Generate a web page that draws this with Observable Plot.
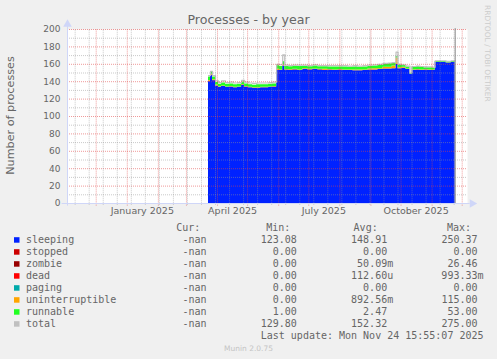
<!DOCTYPE html>
<html><head><meta charset="utf-8">
<script src="https://cdn.jsdelivr.net/npm/d3@7"></script>
<script src="https://cdn.jsdelivr.net/npm/@observablehq/plot@0.6"></script>
<style>
html,body{margin:0;padding:0;background:#f0f0f0;}
#wrap{position:relative;width:497px;height:359px;background:#f0f0f0;overflow:hidden;}
#wrap svg{position:absolute;left:0;top:0;}
</style></head>
<body><div id="wrap"></div>
<script>
// ---- data ----
const dates = ["2025-03-23","2025-03-25","2025-03-27","2025-03-30","2025-04-02","2025-04-05","2025-04-09","2025-04-13","2025-04-17","2025-04-21","2025-04-25","2025-04-28","2025-05-02","2025-05-06","2025-05-10","2025-05-14","2025-05-18","2025-05-22","2025-05-26","2025-05-30","2025-06-02","2025-06-05","2025-06-07","2025-06-11","2025-06-15","2025-06-20","2025-06-25","2025-06-30","2025-07-05","2025-07-10","2025-07-15","2025-07-20","2025-07-25","2025-07-30","2025-08-04","2025-08-09","2025-08-14","2025-08-19","2025-08-24","2025-08-29","2025-09-03","2025-09-08","2025-09-13","2025-09-18","2025-09-22","2025-09-26","2025-09-28","2025-10-02","2025-10-06","2025-10-10","2025-10-12","2025-10-16","2025-10-20","2025-10-24","2025-10-28","2025-11-02","2025-11-04","2025-11-10","2025-11-15","2025-11-20","2025-11-24"];
const sleeping = [140,147,141,135,133.5,134.5,133.5,134,133,133.5,136,134,133,132.5,132.5,133,133,133.5,134,153,153,158,153.5,153,153.5,153,154,153.5,154,153.5,153,153.5,153,153.5,153,153,152.5,152.5,153,153.5,153.5,154,154.5,154.5,155,160,155,155.5,154,148.5,153,153.5,153,153.5,153,153,162,162,161.5,162,162];
const zombie = [0.5,0.5,0.3,0.2,0.2,0,0,0,0,0,0.2,0,0,0,0,0,0,0,0,0.2,0,0,0,0.3,0.3,0,0.3,0.3,0,0.3,0.3,0,0,0,0,0,0,0,0,0,0,0,0,0,0,0,0,0,0,0,0,0,0,0,0,0,0,0,0,0,0];
const uninterruptible = [1,1,1,1,0.5,0.5,0.5,0.5,0.5,0.5,0.5,0.5,0.5,0.5,0.5,0.5,0.5,0.5,0.5,1,0.5,1,0.5,0.5,0.5,0.5,0.5,0.5,0.5,0.5,1,0.5,0.5,0.5,0.5,0.5,1,1,0.5,1,1.5,1,2,2,3,7,1,1,0.5,0,0.5,0.5,0.5,0.5,0.5,0.5,0.2,0.2,0.2,0.2,0.2];
const runnable = [4,3,3,3,3,3.5,3,3,3,3,3,3,3,3,3.5,3,3,3,3,4,4,4,3.5,3.5,3.5,4,3,3,3.5,3,3,3,3.5,3,3.5,3,3.5,3,3.5,3,3,3.5,3.5,4,3,2,3,2,2.5,1,3,3.5,3,2,2.5,2,1,1,1,1,1];
const total = [147,152,147,141,139,141,139,139.5,138.5,139,141.5,139.5,138.5,138,138.5,138.5,138.5,139,139.5,160,159.5,171,159,158.5,159,159,159,158.5,159.5,158.5,158.5,158.5,158.5,158.5,158.5,158,158.5,158,158.5,159,159.5,160,161,161.5,162,174,160,159.5,158,150,157.5,158,157.5,157,157,156.5,164,164,163.5,164,164];

const seriesNames = ["sleeping","zombie","uninterruptible","runnable"];
const seriesValues = [sleeping, zombie, uninterruptible, runnable];

const legendNames = ["sleeping","stopped","zombie","dead","paging","uninterruptible","runnable","total"];
const legendColors = ["#0022ff","#cc0000","#990000","#ff0000","#00aaaa","#ffa500","#22ff22","#c0c0c0"];
const curCol = ["-nan","-nan","-nan","-nan","-nan","-nan","-nan","-nan"];
const minCol = ["123.08","0.00","0.00","0.00","0.00","0.00","1.00","129.80"];
const avgCol = ["148.91","0.00","50.09m","112.60u","0.00","892.56m","2.47","152.32"];
const maxCol = ["250.37","0.00","26.46","993.33m","0.00","115.00","53.00","275.00"];
const headers = ["Cur:","Min:","Avg:","Max:"];
const monthLabelDates = ["2025-01-16","2025-04-16","2025-07-16","2025-10-16"];
const monthStarts = ["2024-12-01","2025-01-01","2025-02-01","2025-03-01","2025-04-01","2025-05-01","2025-06-01","2025-07-01","2025-08-01","2025-09-01","2025-10-01","2025-11-01","2025-12-01"];
const yMajor = [0,20,40,60,80,100,120,140,160,180,200];
const yMinor = [10,30,50,70,90,110,130,150,170,190];
const lastUpdate = "Last update: Mon Nov 24 15:55:07 2025";

// ---- build tables ----
const P = d3.utcParse("%Y-%m-%d");
const tidy = [];
dates.forEach((d, i) => {
  seriesNames.forEach((s, k) => tidy.push({date: P(d), series: s, value: seriesValues[k][i]}));
});
const totals = dates.map((d, i) => ({date: P(d), value: total[i]}));
const colorOf = Object.fromEntries(legendNames.map((n, i) => [n, legendColors[i]]));

const xDomain = [new Date(Date.UTC(2024,10,2,9)), new Date(Date.UTC(2025,11,6,7))];
// minor vertical grid: every two weeks
const minorX = d3.utcDay.every(14).range ? d3.range(0, 30).map(k => new Date(Date.UTC(2024,10,10) + k * 14 * 864e5)).filter(d => d < xDomain[1]) : [];
const AX = "#CFD6F8";
const RED = "rgba(225,70,70,0.55)";
const GRAY = "rgba(150,150,150,0.5)";

const chart = Plot.plot({
  width: 497, height: 225,
  marginLeft: 67, marginRight: 30, marginTop: 29, marginBottom: 22,
  style: {background: "transparent", fontFamily: "DejaVu Sans", color: "#666", overflow: "visible"},
  x: {type: "utc", domain: xDomain},
  y: {domain: [0, 200]},
  color: {domain: seriesNames, range: seriesNames.map(s => colorOf[s])},
  marks: [
    Plot.frame({fill: "white", stroke: null}),
    Plot.areaY(tidy, {x: "date", y: "value", z: "series", fill: "series", curve: "step-after"}),
    Plot.lineY(totals, {x: "date", y: "value", stroke: "#c0c0c0", strokeWidth: 1.2, curve: "step-after"}),
    Plot.ruleY(yMinor, {stroke: GRAY, strokeDasharray: "1,1"}),
    Plot.ruleY(yMajor.slice(1), {stroke: RED, strokeDasharray: "1,1"}),
    Plot.ruleX(minorX, {y1: -2, y2: 200, stroke: GRAY, strokeDasharray: "1,1"}),
    Plot.ruleX(monthStarts.map(P), {y1: -3, y2: 200, stroke: RED, strokeDasharray: "1,1"}),
    Plot.ruleX([P("2025-11-24")], {y1: 0, y2: 201, stroke: "#888", strokeWidth: 1}),
    Plot.ruleY([0], {x1: new Date(Date.UTC(2024,9,28)), x2: new Date(Date.UTC(2025,11,9)), stroke: AX}),
    Plot.ruleX([xDomain[0]], {y1: -3, y2: 204, stroke: AX}),
    Plot.dot([{x: new Date(Date.UTC(2025,11,11)), y: 0}], {x: "x", y: "y", symbol: "triangle", rotate: 90, r: 3.2, fill: AX, stroke: null}),
    Plot.dot([{x: xDomain[0], y: 206}], {x: "x", y: "y", symbol: "triangle", r: 3.2, fill: AX, stroke: null}),
    Plot.axisY(yMajor, {tickSize: 0, tickPadding: 7, fontSize: 9, fill: "#666", label: null}),
    Plot.axisX(monthLabelDates.map(P), {tickSize: 0, tickPadding: 4, fontSize: 9.5, fill: "#666", label: null, tickFormat: d3.utcFormat("%B %Y")})
  ]
});
const wrap = document.getElementById("wrap");
wrap.appendChild(chart);

// ---- overlay texts and legend ----
const svg = d3.select(wrap).append("svg").attr("width", 497).attr("height", 359)
  .style("font-family", "DejaVu Sans");
svg.append("text").attr("x", 248.5).attr("y", 24).attr("text-anchor", "middle")
  .attr("font-size", 12.6).attr("fill", "#666").text("Processes - by year");
svg.append("text").attr("transform", "translate(13.5,115.5) rotate(-90)").attr("text-anchor", "middle")
  .attr("font-size", 11.2).attr("fill", "#666").text("Number of processes");
svg.append("text").attr("transform", "translate(485,5) rotate(90)")
  .attr("font-size", 7.5).attr("fill", "#cccccc").text("RRDTOOL / TOBI OETIKER");
svg.append("text").attr("x", 248.5).attr("y", 351).attr("text-anchor", "middle")
  .attr("font-size", 7.5).attr("fill", "#c4c4c4").text("Munin 2.0.75");

const mono = svg.append("g").style("font-family", "'DejaVu Sans Mono'").attr("font-size", 10).attr("fill", "#666");
const cw = 6.02;
const headerRight = [200.3, 290.3, 377.7, 471];
const numRight = [206.6, 296.9, 387.2, 477.5];
headers.forEach((h, j) => mono.append("text").attr("x", headerRight[j]).attr("y", 231).attr("text-anchor", "end").text(h));
const cols = [curCol, minCol, avgCol, maxCol];
legendNames.forEach((n, i) => {
  const yb = 243 + 12 * i;
  svg.append("rect").attr("x", 14).attr("y", yb - 5.8).attr("width", 5.5).attr("height", 5.5).attr("fill", legendColors[i]);
  mono.append("text").attr("x", 26).attr("y", yb).text(n);
  cols.forEach((c, j) => {
    const s = c[i];
    const suffix = /[a-z]$/.test(s) && s !== "-nan";
    mono.append("text").attr("x", numRight[j] + (suffix ? cw : 0)).attr("y", yb).attr("text-anchor", "end").text(s);
  });
});
mono.append("text").attr("x", numRight[3] + cw).attr("y", 339).attr("text-anchor", "end").text(lastUpdate);
</script>
</body></html>
